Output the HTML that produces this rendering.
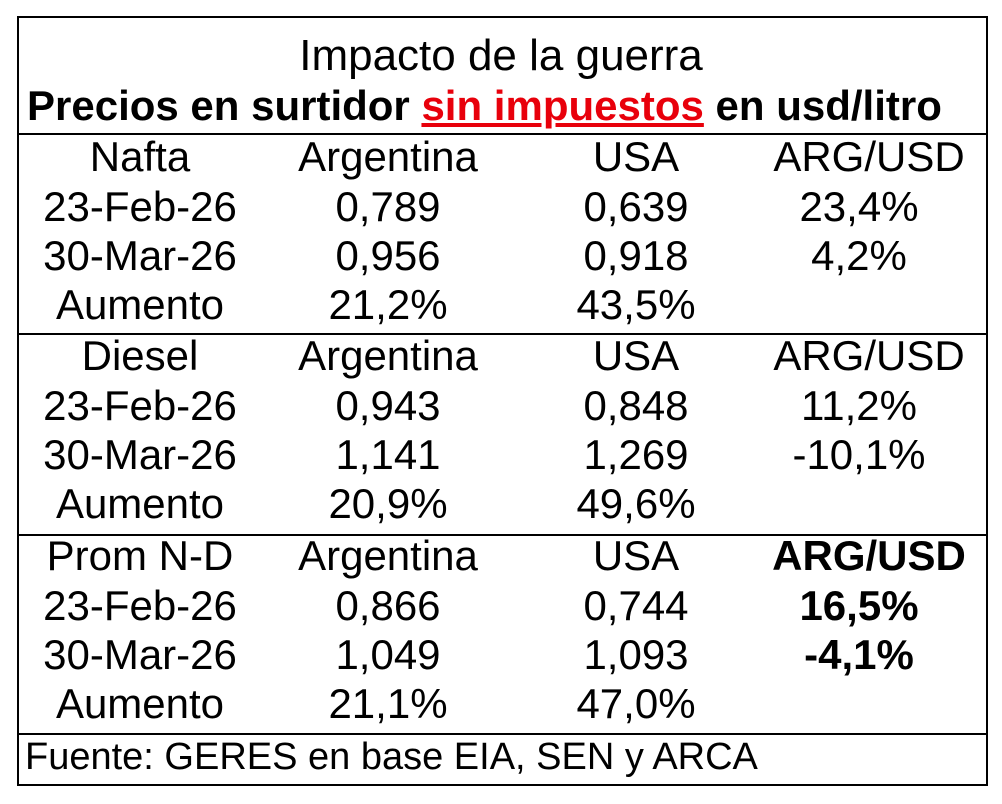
<!DOCTYPE html>
<html><head><meta charset="utf-8"><style>
body{margin:0;width:1002px;height:804px;background:#fff;position:relative;font-family:"Liberation Sans",sans-serif;color:#000;overflow:hidden}
.box{position:absolute;left:17px;top:16px;width:967px;height:766px;border:2px solid #000}
.h{position:absolute;left:17px;width:971px;height:2px;background:#000}
.r{position:absolute;left:17px;width:971px;height:50px;line-height:46px;font-size:42px}
.r span{position:absolute;top:0;text-align:center;white-space:nowrap}
.c1{left:0;width:246px}.c2{left:246px;width:250px}.c3{left:496px;width:246px}.c4{left:742px;width:200px}
b{font-weight:bold}
</style></head><body>
<div class="box"></div>
<div style="position:absolute;left:0;width:1002px;top:32px;text-align:center;font-size:44px;line-height:48px">Impacto de la guerra</div>
<div style="position:absolute;left:27px;top:82px;font-size:42px;line-height:48px;font-weight:bold;white-space:nowrap">Precios en surtidor <span style="color:#e8000b;text-decoration:underline">sin impuestos</span> en usd/litro</div>
<div class="h" style="top:133px"></div>
<div class="h" style="top:333px"></div>
<div class="h" style="top:534px"></div>
<div class="h" style="top:733px"></div>

<div class="r" style="top:134px"><span class="c1">Nafta</span><span class="c2">Argentina</span><span class="c3">USA</span><span class="c4" style="left:752px">ARG/USD</span></div>
<div class="r" style="top:184px"><span class="c1">23-Feb-26</span><span class="c2">0,789</span><span class="c3">0,639</span><span class="c4">23,4%</span></div>
<div class="r" style="top:233px"><span class="c1">30-Mar-26</span><span class="c2">0,956</span><span class="c3">0,918</span><span class="c4">4,2%</span></div>
<div class="r" style="top:282px"><span class="c1">Aumento</span><span class="c2">21,2%</span><span class="c3">43,5%</span></div>

<div class="r" style="top:333px"><span class="c1">Diesel</span><span class="c2">Argentina</span><span class="c3">USA</span><span class="c4" style="left:752px">ARG/USD</span></div>
<div class="r" style="top:383px"><span class="c1">23-Feb-26</span><span class="c2">0,943</span><span class="c3">0,848</span><span class="c4">11,2%</span></div>
<div class="r" style="top:432px"><span class="c1">30-Mar-26</span><span class="c2">1,141</span><span class="c3">1,269</span><span class="c4">-10,1%</span></div>
<div class="r" style="top:481px"><span class="c1">Aumento</span><span class="c2">20,9%</span><span class="c3">49,6%</span></div>

<div class="r" style="top:533px"><span class="c1">Prom N-D</span><span class="c2">Argentina</span><span class="c3">USA</span><span class="c4" style="left:752px"><b>ARG/USD</b></span></div>
<div class="r" style="top:583px"><span class="c1">23-Feb-26</span><span class="c2">0,866</span><span class="c3">0,744</span><span class="c4"><b>16,5%</b></span></div>
<div class="r" style="top:632px"><span class="c1">30-Mar-26</span><span class="c2">1,049</span><span class="c3">1,093</span><span class="c4"><b>-4,1%</b></span></div>
<div class="r" style="top:681px"><span class="c1">Aumento</span><span class="c2">21,1%</span><span class="c3">47,0%</span></div>

<div style="position:absolute;left:25px;top:735px;font-size:38px;line-height:44px;white-space:nowrap">Fuente: GERES en base EIA, SEN y ARCA</div>
</body></html>
